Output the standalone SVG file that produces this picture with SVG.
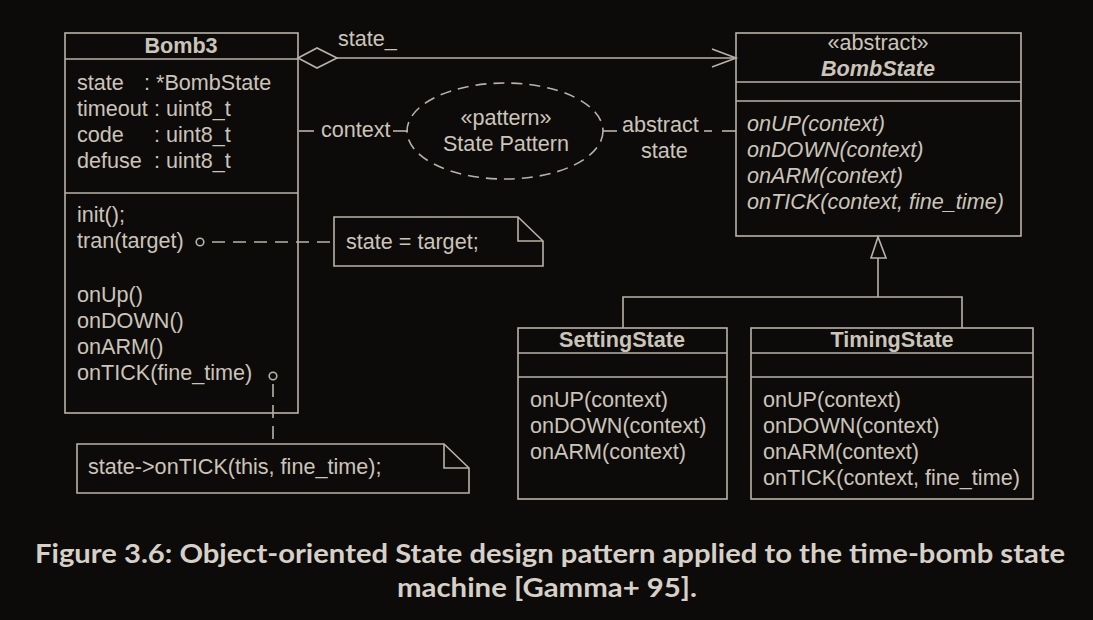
<svg xmlns="http://www.w3.org/2000/svg" width="1093" height="620" viewBox="0 0 1093 620">
<style>
.bg{fill:#0d0b0a}
.box{fill:none;stroke:#b9b2a7;stroke-width:1.6}
.ln{fill:none;stroke:#b9b2a7;stroke-width:1.6}
.dash{fill:none;stroke:#b9b2a7;stroke-width:1.6;stroke-dasharray:13 8}
.t{font-family:"Liberation Sans",Arial,sans-serif;font-size:21.6px;fill:#cbc4b9}
.b{font-weight:bold}
.i{font-style:italic}
.m{text-anchor:middle}
.cap{font-family:Lato,"Open Sans",sans-serif;font-weight:bold;font-size:26px;fill:#d6d0c6;text-anchor:middle}
</style>
<rect class="bg" x="0" y="0" width="1093" height="620"/>

<g id="connectors">
  <polygon class="ln" points="298,58 317,48 337,58 317,68" fill="#0d0b0a"/>
  <line class="ln" x1="337" y1="58" x2="735" y2="58"/>
  <polyline class="ln" points="712,49 736,58 712,67"/>
  <text class="t" x="338" y="46">state_</text>
  <line class="ln" x1="299" y1="131" x2="314" y2="131"/>
  <line class="ln" x1="393" y1="131" x2="408" y2="131"/>
  <text class="t" x="321" y="137">context</text>
  <line class="ln" x1="603" y1="131" x2="617" y2="131"/>
  <line class="ln" x1="704" y1="131" x2="712" y2="131"/>
  <line class="ln" x1="722" y1="131" x2="736" y2="131"/>
  <text class="t" x="622" y="132">abstract</text>
  <text class="t" x="641" y="158">state</text>
  <polygon class="ln" points="878,237 871,258 886,258"/>
  <line class="ln" x1="878" y1="258" x2="878" y2="297"/>
  <polyline class="ln" points="623,328 623,297 962,297 962,328"/>
  <circle class="ln" cx="200" cy="242" r="3.8"/>
  <line class="dash" x1="212" y1="242" x2="334" y2="242"/>
  <circle class="ln" cx="273" cy="376" r="3.8"/>
  <line class="dash" x1="273" y1="384" x2="273" y2="444"/>
</g>

<g id="bomb3">
  <rect class="box" x="65" y="33" width="233" height="380"/>
  <line class="ln" x1="65" y1="59" x2="298" y2="59"/>
  <line class="ln" x1="65" y1="193" x2="298" y2="193"/>
  <text class="t b m" x="181" y="53">Bomb3</text>
  <text class="t" x="77" y="90">state</text><text class="t" x="144" y="90">: *BombState</text>
  <text class="t" x="77" y="116">timeout</text><text class="t" x="154" y="116">: uint8_t</text>
  <text class="t" x="77" y="142">code</text><text class="t" x="154" y="142">: uint8_t</text>
  <text class="t" x="77" y="168">defuse</text><text class="t" x="154" y="168">: uint8_t</text>
  <text class="t" x="77" y="222">init();</text>
  <text class="t" x="77" y="248">tran(target)</text>
  <text class="t" x="77" y="302">onUp()</text>
  <text class="t" x="77" y="328">onDOWN()</text>
  <text class="t" x="77" y="354">onARM()</text>
  <text class="t" x="77" y="380">onTICK(fine_time)</text>
</g>

<g id="pattern">
  <ellipse cx="505" cy="131" rx="98" ry="48" fill="none" stroke="#b9b2a7" stroke-width="1.6" stroke-dasharray="11 7"/>
  <text class="t m" x="506" y="125">«pattern»</text>
  <text class="t m" x="506" y="151">State Pattern</text>
</g>

<g id="bombstate">
  <rect class="box" x="736" y="33" width="285" height="203"/>
  <line class="ln" x1="736" y1="82" x2="1021" y2="82"/>
  <line class="ln" x1="736" y1="101" x2="1021" y2="101"/>
  <text class="t m" x="878" y="50">«abstract»</text>
  <text class="t b i m" x="878" y="76">BombState</text>
  <text class="t i" x="747" y="131">onUP(context)</text>
  <text class="t i" x="747" y="157">onDOWN(context)</text>
  <text class="t i" x="747" y="183">onARM(context)</text>
  <text class="t i" x="747" y="209">onTICK(context, fine_time)</text>
</g>

<g id="note1">
  <polygon class="ln" points="334,217 518,217 543,241 543,266 334,266"/>
  <polyline class="ln" points="518,217 518,241 543,241"/>
  <text class="t" x="346" y="249">state = target;</text>
</g>

<g id="note2">
  <polygon class="ln" points="77,444 444,444 469,468 469,493 77,493"/>
  <polyline class="ln" points="444,444 444,468 469,468"/>
  <text class="t" x="88" y="474">state-&gt;onTICK(this, fine_time);</text>
</g>

<g id="settingstate">
  <rect class="box" x="518" y="328" width="209" height="171"/>
  <line class="ln" x1="518" y1="353" x2="727" y2="353"/>
  <line class="ln" x1="518" y1="377" x2="727" y2="377"/>
  <text class="t b m" x="622" y="347">SettingState</text>
  <text class="t" x="530" y="407">onUP(context)</text>
  <text class="t" x="530" y="433">onDOWN(context)</text>
  <text class="t" x="530" y="459">onARM(context)</text>
</g>

<g id="timingstate">
  <rect class="box" x="751" y="328" width="282" height="171"/>
  <line class="ln" x1="751" y1="353" x2="1033" y2="353"/>
  <line class="ln" x1="751" y1="377" x2="1033" y2="377"/>
  <text class="t b m" x="892" y="347">TimingState</text>
  <text class="t" x="763" y="407">onUP(context)</text>
  <text class="t" x="763" y="433">onDOWN(context)</text>
  <text class="t" x="763" y="459">onARM(context)</text>
  <text class="t" x="763" y="485">onTICK(context, fine_time)</text>
</g>

<g id="caption">
  <text class="cap" x="550" y="563" textLength="1030" lengthAdjust="spacingAndGlyphs">Figure 3.6:  Object-oriented State design pattern applied to the time-bomb state</text>
  <text class="cap" x="547" y="597" textLength="300" lengthAdjust="spacingAndGlyphs">machine [Gamma+ 95].</text>
</g>
</svg>
